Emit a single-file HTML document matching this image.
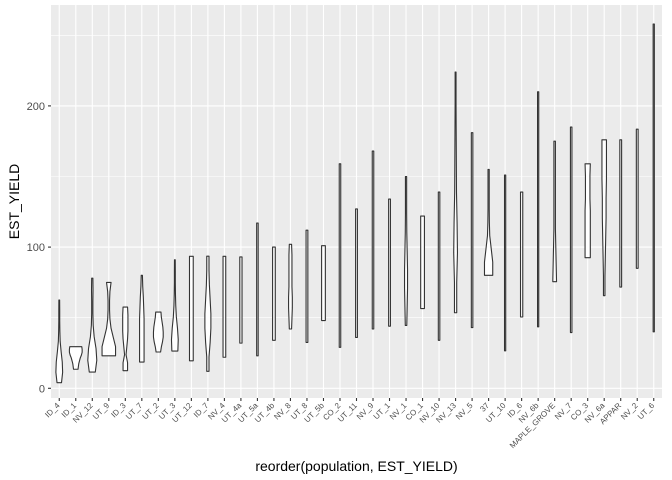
<!DOCTYPE html>
<html><head><meta charset="utf-8"><style>
body{margin:0;background:#fff;}
svg{display:block;font-family:"Liberation Sans",sans-serif;}
</style></head><body>
<svg id="chart" width="672" height="480" viewBox="0 0 672 480"></svg>
<script>
const categories=["ID_4","ID_1","NV_12","UT_9","ID_3","UT_7","UT_2","UT_3","UT_12","ID_7","NV_4","UT_4a","UT_5a","UT_4b","NV_8","UT_8","UT_5b","CO_2","UT_11","NV_9","UT_1","NV_1","CO_1","NV_10","NV_13","NV_5","37","UT_10","ID_6","NV_6b","MAPLE_GROVE","NV_7","CO_3","NV_6a","APPAR","NV_2","UT_6"];
const minValues=[4,13.5,11.5,23,12.5,18.6,25.7,26.4,19.5,12,22,32,23,34,42,32.5,48,29,36,42,44,44.5,56.5,34,53.5,43,80,26.5,50.5,43.5,75.5,39.5,92.5,65.6,71.7,85,40];
const maxValues=[62.5,29.5,78,75,57.5,80,54,91,93.5,93.6,93.5,93,117,100,102,112,101,159,127,168,134,150,122,139,224,181,155,151,139,210,175,185,159,176,176,183.5,258];
const densities=[
[0.3,0.45,0.4,0.25,0.12,0.08,0.06,0.06,0.05],
[0.3,0.35,0.4,0.5,0.6,0.75,0.85,0.85,0.8],
[0.4,0.6,0.5,0.25,0.12,0.08,0.08,0.1,0.08],
[0.9,0.9,0.6,0.3,0.15,0.1,0.1,0.15,0.3],
[0.3,0.3,0.1,0.2,0.3,0.35,0.35,0.35,0.3],
[0.3,0.3,0.3,0.3,0.3,0.25,0.2,0.12,0.08],
[0.3,0.4,0.55,0.65,0.65,0.6,0.5,0.4,0.35],
[0.4,0.45,0.35,0.2,0.12,0.08,0.06,0.06,0.05],
[0.25,0.25,0.25,0.25,0.25,0.25,0.25,0.25,0.25],
[0.15,0.15,0.3,0.4,0.4,0.3,0.2,0.15,0.15],
[0.18,0.18,0.18,0.18,0.18,0.18,0.18,0.18,0.18],
[0.15,0.15,0.15,0.15,0.15,0.15,0.15,0.15,0.15],
[0.1,0.1,0.1,0.1,0.1,0.1,0.1,0.1,0.1],
[0.18,0.18,0.18,0.18,0.18,0.18,0.18,0.18,0.18],
[0.15,0.2,0.25,0.25,0.2,0.2,0.2,0.2,0.15],
[0.12,0.12,0.12,0.12,0.12,0.12,0.12,0.12,0.12],
[0.25,0.25,0.25,0.25,0.25,0.25,0.25,0.25,0.25],
[0.1,0.1,0.1,0.1,0.1,0.1,0.1,0.1,0.1],
[0.12,0.12,0.12,0.12,0.12,0.12,0.12,0.12,0.12],
[0.1,0.1,0.1,0.1,0.1,0.1,0.1,0.1,0.1],
[0.12,0.12,0.12,0.12,0.12,0.12,0.12,0.12,0.12],
[0.1,0.15,0.2,0.2,0.15,0.1,0.08,0.08,0.08],
[0.25,0.25,0.25,0.25,0.25,0.25,0.25,0.25,0.25],
[0.1,0.1,0.1,0.1,0.1,0.1,0.1,0.1,0.1],
[0.15,0.15,0.25,0.2,0.12,0.1,0.08,0.06,0.06],
[0.1,0.1,0.1,0.1,0.1,0.1,0.1,0.1,0.1],
[0.55,0.55,0.35,0.15,0.1,0.08,0.08,0.08,0.08],
[0.08,0.08,0.08,0.08,0.08,0.08,0.08,0.08,0.08],
[0.15,0.15,0.15,0.15,0.15,0.15,0.15,0.15,0.15],
[0.08,0.08,0.08,0.08,0.08,0.08,0.08,0.08,0.08],
[0.25,0.2,0.15,0.1,0.1,0.1,0.1,0.1,0.1],
[0.1,0.1,0.1,0.1,0.1,0.1,0.1,0.1,0.1],
[0.35,0.35,0.35,0.35,0.35,0.3,0.3,0.3,0.35],
[0.1,0.1,0.15,0.2,0.25,0.25,0.3,0.3,0.3],
[0.12,0.12,0.12,0.12,0.12,0.12,0.12,0.12,0.12],
[0.12,0.12,0.12,0.12,0.12,0.12,0.12,0.12,0.12],
[0.08,0.08,0.08,0.08,0.08,0.08,0.08,0.08,0.08]];
const yTicks=[0,100,200];
const yMinor=[50,150,250];

const NS="http://www.w3.org/2000/svg";
const svg=document.getElementById('chart');
const L=51,R=662,T=5,B=398;
const band=(R-L)/categories.length;
const xPos=i=>L+band*(i+0.5);
const yPos=v=>388.3-v*1.412;
const maxHalf=7.5;
function mk(tag,attrs,parent){const e=document.createElementNS(NS,tag);for(const k in attrs)e.setAttribute(k,attrs[k]);(parent||svg).appendChild(e);return e;}

const panel=mk('rect',{x:L,y:T,width:R-L,height:B-T,fill:'#ebebeb'});


const grid=mk('g',{});


yMinor.forEach(v=>{mk('line',{x1:L,x2:R,y1:yPos(v),y2:yPos(v),stroke:'#fff','stroke-width':0.55},grid);});
yTicks.forEach(v=>{mk('line',{x1:L,x2:R,y1:yPos(v),y2:yPos(v),stroke:'#fff','stroke-width':1.1},grid);});
categories.forEach((c,i)=>{mk('line',{x1:xPos(i),x2:xPos(i),y1:T,y2:B,stroke:'#fff','stroke-width':1.1},grid);});

const vg=mk('g',{});


categories.forEach((c,i)=>{
  const d=densities[i],n=d.length,cx=xPos(i);
  const pts=[];
  for(let k=0;k<n;k++){const v=minValues[i]+(maxValues[i]-minValues[i])*k/(n-1);pts.push([cx+d[k]*maxHalf,yPos(v)]);}
  for(let k=n-1;k>=0;k--){const v=minValues[i]+(maxValues[i]-minValues[i])*k/(n-1);pts.push([cx-d[k]*maxHalf,yPos(v)]);}
  const p=mk('polygon',{points:pts.map(q=>q[0].toFixed(2)+','+q[1].toFixed(2)).join(' '),fill:'#fff',stroke:'#333','stroke-width':1.1,'stroke-linejoin':'round'},vg);
  
  
});

const ya=mk('g',{});


yTicks.forEach(v=>{
  mk('line',{x1:48,x2:L,y1:yPos(v),y2:yPos(v),stroke:'#333','stroke-width':1.1},ya);
  const t=mk('text',{x:45,y:yPos(v)+4,'text-anchor':'end','font-size':11,fill:'#4d4d4d'},ya);
  t.textContent=v;
  
  
});
const xa=mk('g',{});


categories.forEach((c,i)=>{
  const x=xPos(i);
  mk('line',{x1:x,x2:x,y1:B,y2:B+3,stroke:'#333','stroke-width':1.1},xa);
  const ax=x+1,ay=B+8;
  const t=mk('text',{x:ax,y:ay,'text-anchor':'end','font-size':8,fill:'#4d4d4d',transform:'rotate(-45 '+ax+' '+ay+')'},xa);
  t.textContent=c;
  
  
});
const xt=mk('text',{x:(L+R)/2,y:471,'text-anchor':'middle','font-size':14,fill:'#000'});
xt.textContent='reorder(population, EST_YIELD)';


const yt=mk('text',{x:19,y:(T+B)/2,'text-anchor':'middle','font-size':14,fill:'#000',transform:'rotate(-90 19 '+((T+B)/2)+')'});
yt.textContent='EST_YIELD';


</script>
</body></html>
